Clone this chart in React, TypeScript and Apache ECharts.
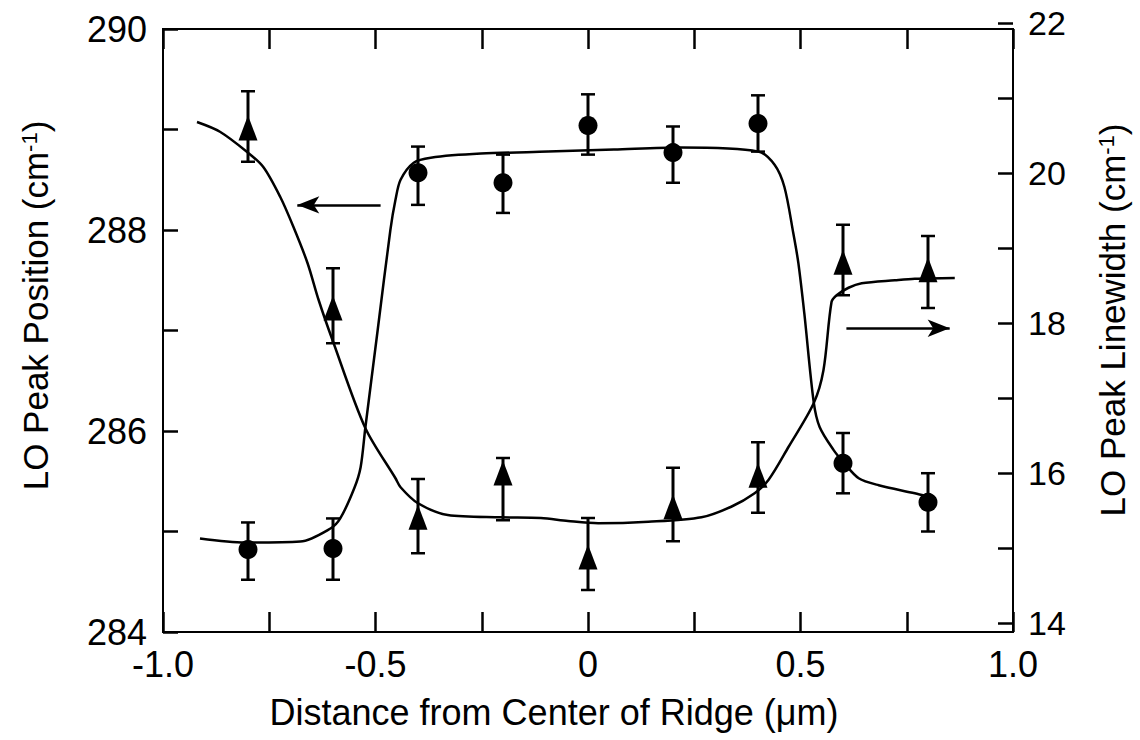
import React, { useEffect, useRef } from "react";
import * as echarts from "echarts";

const FONT = "'Liberation Sans', Arial, Helvetica, sans-serif";

// Axis ticks / labels
const xTickValues = [-1, -0.75, -0.5, -0.25, 0, 0.25, 0.5, 0.75, 1];
const xLabelValues = [-1, -0.5, 0, 0.5, 1];
const leftTickValues = [284, 285, 286, 287, 288, 289, 290];
const leftLabelValues = [284, 286, 288, 290];
const rightTickValues = [14, 15, 16, 17, 18, 19, 20, 21, 22];
const rightLabelValues = [14, 16, 18, 20, 22];

// Measured points
const positions = [-0.8, -0.6, -0.4, -0.2, 0, 0.2, 0.4, 0.6, 0.8];
const peakPosition = [284.82, 284.83, 288.57, 288.47, 289.04, 288.77, 289.06, 285.68, 285.29];
const peakPositionLow = [284.52, 284.52, 288.25, 288.17, 288.75, 288.47, 288.78, 285.38, 285.0];
const peakPositionHigh = [285.09, 285.13, 288.83, 288.75, 289.35, 289.03, 289.34, 285.98, 285.58];
const linewidth = [20.6, 18.2, 15.41, 16.0, 14.88, 15.55, 15.97, 18.81, 18.71];
const linewidthLow = [20.15, 17.73, 14.93, 15.37, 14.44, 15.09, 15.47, 18.37, 18.2];
const linewidthHigh = [21.09, 18.73, 15.92, 16.2, 15.4, 16.07, 16.41, 19.31, 19.16];

// Guide curves
const positionFitX = [-0.913, -0.807, -0.677, -0.606, -0.583, -0.55, -0.535, -0.524, -0.495, -0.465, -0.453, -0.441, -0.41, -0.37, -0.252, -0.094, 0.061, 0.219, 0.401, 0.439, 0.462, 0.483, 0.495, 0.509, 0.531, 0.545, 0.578, 0.601, 0.637, 0.684, 0.769, 0.797];
const positionFitY = [284.93, 284.89, 284.9, 285.03, 285.13, 285.43, 285.64, 286.03, 287.0, 288.0, 288.3, 288.5, 288.67, 288.72, 288.76, 288.78, 288.8, 288.82, 288.78, 288.65, 288.43, 287.97, 287.67, 287.17, 286.29, 286.04, 285.81, 285.69, 285.53, 285.46, 285.38, 285.35];
const linewidthFitX = [-0.92, -0.866, -0.802, -0.764, -0.724, -0.693, -0.66, -0.634, -0.601, -0.524, -0.453, -0.441, -0.401, -0.33, -0.205, -0.111, -0.047, 0.024, 0.142, 0.267, 0.337, 0.392, 0.425, 0.472, 0.531, 0.554, 0.573, 0.585, 0.613, 0.644, 0.722, 0.769, 0.863];
const linewidthFitY = [20.68, 20.55, 20.28, 20.08, 19.68, 19.28, 18.8, 18.31, 17.77, 16.6, 15.93, 15.81, 15.6, 15.44, 15.41, 15.4, 15.36, 15.33, 15.35, 15.41, 15.55, 15.73, 15.91, 16.35, 16.93, 17.37, 18.28, 18.37, 18.47, 18.53, 18.57, 18.59, 18.6];

// Annotation arrows [x, y]
const leftArrowFrom = [-0.488, 288.25];
const leftArrowTo = [-0.684, 288.25];
const rightArrowFrom = [0.608, 17.93];
const rightArrowTo = [0.851, 17.93];

const fmtX = (v: number) => (v === 0 ? "0" : v.toFixed(1));

const errorBarRender = (params: any, api: any) => {
  const x = api.value(0);
  const lo = api.value(1);
  const hi = api.value(2);
  const p1 = api.coord([x, hi]);
  const p2 = api.coord([x, lo]);
  const w = 7;
  const st = { stroke: "#000", lineWidth: 3 };
  return {
    type: "group",
    children: [
      { type: "line", shape: { x1: p1[0], y1: p1[1], x2: p2[0], y2: p2[1] }, style: st },
      { type: "line", shape: { x1: p1[0] - w, y1: p1[1], x2: p1[0] + w, y2: p1[1] }, style: { stroke: "#000", lineWidth: 2.5 } },
      { type: "line", shape: { x1: p2[0] - w, y1: p2[1], x2: p2[0] + w, y2: p2[1] }, style: { stroke: "#000", lineWidth: 2.5 } },
    ],
  };
};

const tickStyle = { color: "#000", width: 2.5 };
const supRich = {
  sup: { fontSize: 22, verticalAlign: "top", fontFamily: FONT, color: "#000" },
};

export default function App() {
  const ref = useRef<HTMLDivElement>(null);
  useEffect(() => {
    const chart = echarts.init(ref.current!, null, { renderer: "svg" });
    const option: any = {
      animation: false,
      backgroundColor: "#fff",
      grid: [
        { left: 163, right: 127, top: 29, bottom: 108, show: true, borderColor: "#000", borderWidth: 2, backgroundColor: "transparent" },
        { left: 163, right: 127, top: 23, bottom: 117 },
      ],
      xAxis: [
        {
          type: "value", gridIndex: 0, position: "bottom", min: -1, max: 1, interval: 0.25,
          axisLine: { show: false, onZero: false }, splitLine: { show: false },
          axisTick: { inside: true, length: 20, lineStyle: tickStyle, customValues: xTickValues },
          axisLabel: { customValues: xLabelValues, formatter: fmtX, fontSize: 36, color: "#000", fontFamily: FONT, margin: 14 },
          name: "Distance from Center of Ridge (μm)", nameLocation: "middle", nameGap: 62,
          nameTextStyle: { fontSize: 36, color: "#000", fontFamily: FONT, padding: [0, 68, 0, 0] },
        },
        {
          type: "value", gridIndex: 0, position: "top", min: -1, max: 1, interval: 0.25,
          axisLine: { show: false, onZero: false }, splitLine: { show: false },
          axisTick: { inside: true, length: 20, lineStyle: tickStyle, customValues: xTickValues },
          axisLabel: { show: false },
        },
        { type: "value", gridIndex: 1, min: -1, max: 1, show: false, axisLine: { onZero: false } },
      ],
      yAxis: [
        {
          type: "value", gridIndex: 0, position: "left", min: 284, max: 290, interval: 1,
          axisLine: { show: false, onZero: false }, splitLine: { show: false },
          axisTick: { inside: true, length: 15, lineStyle: tickStyle, customValues: leftTickValues },
          axisLabel: { customValues: leftLabelValues, fontSize: 36, color: "#000", fontFamily: FONT, margin: 16 },
          name: "LO Peak Position (cm{sup|-1})", nameLocation: "middle", nameRotate: 90, nameGap: 110,
          nameTextStyle: { fontSize: 35, color: "#000", fontFamily: FONT, padding: [0, 0, 0, 50], rich: supRich },
        },
        {
          type: "value", gridIndex: 1, position: "right", min: 14, max: 22, interval: 1,
          axisLine: { show: false, onZero: false }, splitLine: { show: false },
          axisTick: { inside: true, length: 15, lineStyle: tickStyle, customValues: rightTickValues },
          axisLabel: { customValues: rightLabelValues, fontSize: 34, color: "#000", fontFamily: FONT, margin: 15 },
          name: "LO Peak Linewidth (cm{sup|-1})", nameLocation: "middle", nameRotate: 90, nameGap: 82,
          nameTextStyle: { fontSize: 35, color: "#000", fontFamily: FONT, padding: [0, 0, 0, 6], rich: supRich },
        },
      ],
      series: [
        {
          type: "custom", xAxisIndex: 0, yAxisIndex: 0, renderItem: errorBarRender, silent: true,
          encode: { x: 0, y: [1, 2] },
          data: positions.map((x, i) => [x, peakPositionLow[i], peakPositionHigh[i]]),
        },
        {
          type: "line", xAxisIndex: 0, yAxisIndex: 0, showSymbol: false, smooth: 0.3,
          lineStyle: { color: "#000", width: 2.5 }, emphasis: { disabled: true }, silent: true,
          data: positionFitX.map((x, i) => [x, positionFitY[i]]),
          markLine: {
            silent: true, symbol: ["none", "arrow"], symbolSize: [13, 22],
            lineStyle: { color: "#000", width: 2.5, type: "solid" }, label: { show: false },
            data: [[{ coord: leftArrowFrom }, { coord: leftArrowTo }]],
          },
        },
        {
          type: "scatter", xAxisIndex: 0, yAxisIndex: 0, symbol: "circle", symbolSize: 19,
          itemStyle: { color: "#000", opacity: 1 }, silent: true,
          data: positions.map((x, i) => [x, peakPosition[i]]),
        },
        {
          type: "custom", xAxisIndex: 2, yAxisIndex: 1, renderItem: errorBarRender, silent: true,
          encode: { x: 0, y: [1, 2] },
          data: positions.map((x, i) => [x, linewidthLow[i], linewidthHigh[i]]),
        },
        {
          type: "line", xAxisIndex: 2, yAxisIndex: 1, showSymbol: false, smooth: 0.3,
          lineStyle: { color: "#000", width: 2.5 }, emphasis: { disabled: true }, silent: true,
          data: linewidthFitX.map((x, i) => [x, linewidthFitY[i]]),
          markLine: {
            silent: true, symbol: ["none", "arrow"], symbolSize: [13, 22],
            lineStyle: { color: "#000", width: 2.5, type: "solid" }, label: { show: false },
            data: [[{ coord: rightArrowFrom }, { coord: rightArrowTo }]],
          },
        },
        {
          type: "scatter", xAxisIndex: 2, yAxisIndex: 1, symbol: "triangle", symbolSize: [19, 25],
          itemStyle: { color: "#000", opacity: 1 }, silent: true,
          data: positions.map((x, i) => [x, linewidth[i]]),
        },
      ],
    };
    chart.setOption(option);
    return () => chart.dispose();
  }, []);
  return (
    <div
      ref={ref}
      style={{ position: "fixed", left: 0, top: 0, width: 1140, height: 740, background: "#fff" }}
    />
  );
}
